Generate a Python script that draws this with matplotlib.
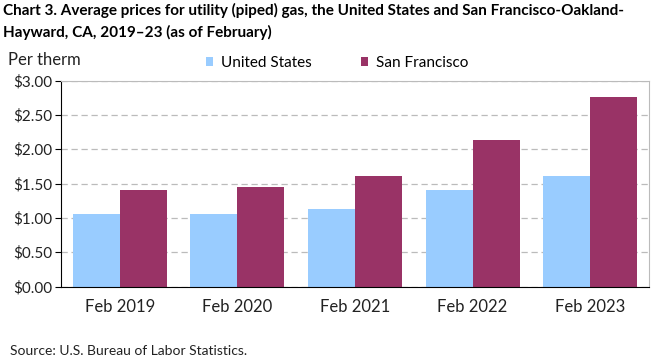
import numpy as np
import matplotlib.pyplot as plt

plt.rcParams['font.family'] = ['Lato', 'DejaVu Sans']

years = ["Feb 2019", "Feb 2020", "Feb 2021", "Feb 2022", "Feb 2023"]
us_prices = [1.05, 1.05, 1.13, 1.40, 1.61]
sf_prices = [1.40, 1.45, 1.61, 2.13, 2.76]

us_color = "#99CCFF"
sf_color = "#993366"

fig = plt.figure(figsize=(6.61, 3.61), dpi=100)
ax = fig.add_axes([61 / 661, 1 - 286.5 / 361, 588 / 661, 206 / 361])

x = np.arange(len(years))
w = 0.4
ax.bar(x - w / 2, us_prices, w, color=us_color, label="United States", zorder=2)
ax.bar(x + w / 2, sf_prices, w, color=sf_color, label="San Francisco", zorder=2)

ax.set_xlim(-0.5, len(years) - 0.5)
ax.set_ylim(0, 3.0)
ax.set_yticks(np.arange(0, 3.01, 0.5))
ax.set_yticklabels(["${:.2f}".format(v) for v in np.arange(0, 3.01, 0.5)])
ax.set_xticks(x)
ax.set_xticklabels(years)
ax.tick_params(axis="x", length=0, pad=9, labelsize=12, colors="#222222")
ax.tick_params(axis="y", length=4, direction="out", pad=2, labelsize=11,
               colors="#222222", color="black")

ax.grid(axis="y", color="#BBBBBB", linestyle=(0, (5, 3)), linewidth=0.9, zorder=0)
ax.spines["left"].set_color("black")
ax.spines["bottom"].set_color("black")
ax.spines["top"].set_color("#BBBBBB")
ax.spines["right"].set_color("#BBBBBB")
ax.spines["bottom"].set_zorder(3)

fig.text(3 / 661, 1 - 3 / 361,
         "Chart 3. Average prices for utility (piped) gas, the United States and San Francisco-Oakland-\nHayward, CA, 2019\u201323 (as of February)",
         fontsize=11, fontweight="bold", va="top", ha="left", linespacing=1.55)
fig.text(8 / 661, 1 - 60 / 361, "Per therm", fontsize=12, va="center", color="#222222")
fig.text(10 / 661, 1 - 351 / 361, "Source: U.S. Bureau of Labor Statistics.",
         fontsize=10, va="center", color="#222222")

fig.legend(loc="center", bbox_to_anchor=(337 / 661, 1 - 63 / 361), ncol=2,
           frameon=False, fontsize=11, handlelength=0.5, handleheight=0.5,
           columnspacing=3.2, handletextpad=0.5)

fig.savefig("out.png", dpi=100)
